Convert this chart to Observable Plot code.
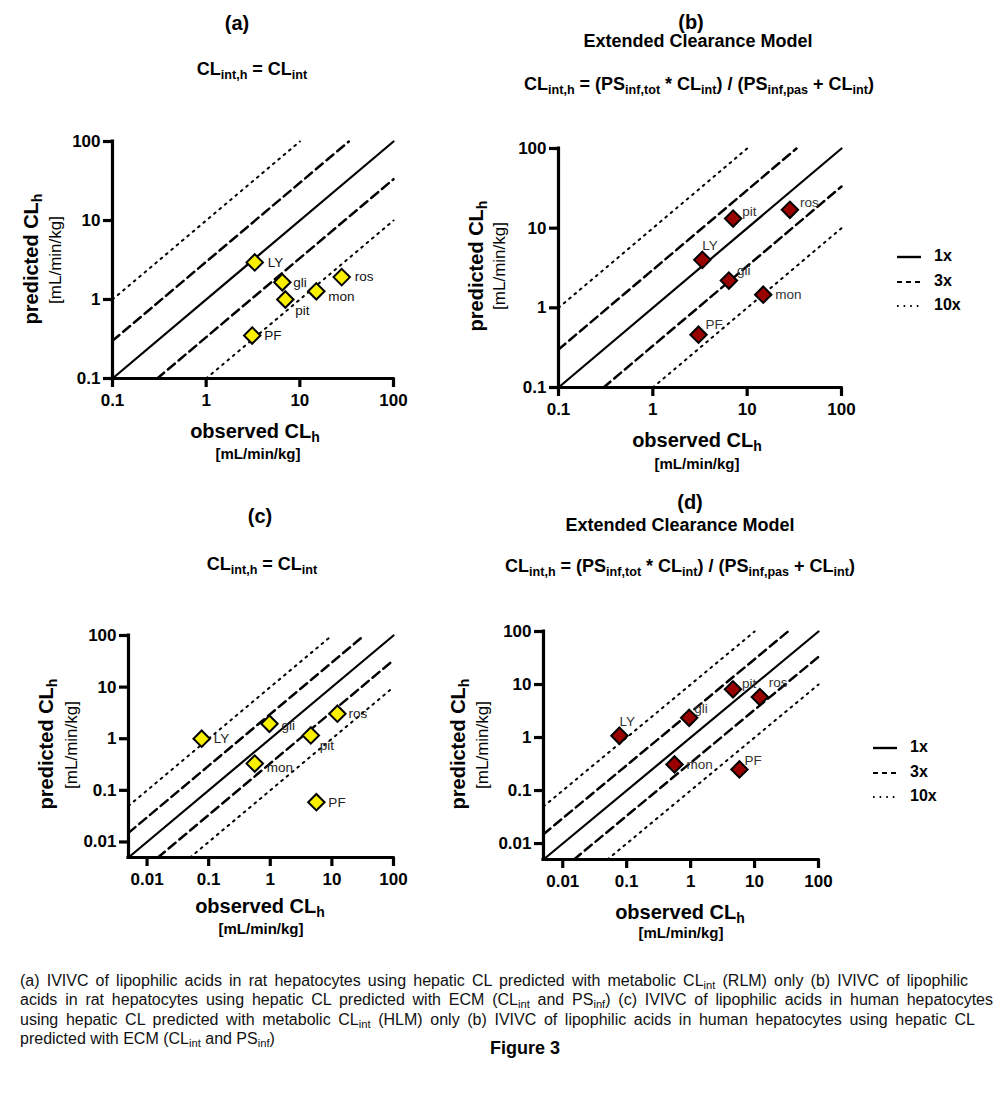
<!DOCTYPE html>
<html><head><meta charset="utf-8">
<script src="https://cdn.jsdelivr.net/npm/d3@7"></script>
<script src="https://cdn.jsdelivr.net/npm/@observablehq/plot@0.6"></script>
<style>
body{margin:0;background:#fff;}
#root{position:relative;width:998px;height:1110px;font-family:"Liberation Sans",Arial,sans-serif;color:#000;overflow:hidden;}
.t{position:absolute;white-space:nowrap;transform:translate(-50%,-50%);font-weight:bold;line-height:1;}
.yl{transform:translate(-50%,-50%) rotate(-90deg);}
.sb{font-size:0.7em;position:relative;top:0.28em;}
.pan{position:absolute;}
.cap{position:absolute;left:20px;font-size:16px;line-height:1;white-space:nowrap;color:#111;}
.just{text-align:justify;text-align-last:justify;}
.leg{position:absolute;font-weight:bold;font-size:16px;}
.leg div{position:relative;height:24.5px;}
.leg svg{position:absolute;left:0;top:-1px;}
.leg span{position:absolute;left:38px;top:-9px;}
</style>
</head><body>
<div id="root"></div>
<script>
// ---- data ----
const compounds = ["LY", "gli", "pit", "mon", "ros", "PF"];
// (a) rat, metabolic CLint only
const obsA  = [3.3, 6.5, 7.0, 15, 28, 3.1];
const predA = [2.95, 1.65, 1.0, 1.27, 1.92, 0.35];
// (b) rat, ECM
const obsB  = [3.35, 6.4, 7.1, 14.8, 28.4, 3.05];
const predB = [4.0, 2.2, 13.2, 1.46, 17, 0.46];
// (c) human, metabolic CLint only
const obsC  = [0.077, 0.97, 4.55, 0.56, 12.3, 5.6];
const predC = [1.0, 1.95, 1.16, 0.33, 3.05, 0.059];
// (d) human, ECM
const obsD  = [0.077, 0.95, 4.6, 0.56, 12.1, 5.8];
const predD = [1.08, 2.35, 8.1, 0.31, 5.8, 0.25];

const foldRatios = [1, 3, 1/3, 10, 1/10];
const legendLabels = ["1x", "3x", "10x"];
const ticksRat = [0.1, 1, 10, 100];
const tickLabelsRat = ["0.1", "1", "10", "100"];
const ticksHum = [0.01, 0.1, 1, 10, 100];
const tickLabelsHum = ["0.01", "0.1", "1", "10", "100"];
const domainRat = [0.1, 100];
const domainHum = [0.005, 100];

// ---- label placement (style) ----
const offA = {LY:[13,0], gli:[11,0], pit:[10,11], mon:[12,5], ros:[13,0], PF:[12,0]};
const offB = {LY:[0,-14], gli:[8,-10], pit:[9,-7], mon:[12,0], ros:[10,-7], PF:[7,-10]};
const offC = {LY:[12,0], gli:[12,2], pit:[9,10], mon:[12,4], ros:[11,0], PF:[12,0]};
const offD = {LY:[0,-14], gli:[5,-9], pit:[9,-6], mon:[12,0], ros:[9,-14], PF:[5,-9]};

const root = document.getElementById("root");
const FONT = "'Liberation Sans', Arial, sans-serif";

function kind(k){ return k === 1 ? "solid" : (Math.abs(k-3)<1e-9 || Math.abs(k-1/3)<1e-9) ? "dashed" : "dotted"; }

function panel(o){
  const rows = compounds.map((name,i)=>({name, x:o.obs[i], y:o.pred[i]}));
  const [d0,d1] = o.domain;
  const seg = [];
  for (const k of foldRatios){
    const x0 = Math.max(d0, d0/k), x1 = Math.min(d1, d1/k);
    seg.push({k, x:x0, y:k*x0}, {k, x:x1, y:k*x1});
  }
  const fmt = d => o.tickLabels[o.ticks.indexOf(d)];
  const axisOpts = {tickSize:9, strokeWidth:3.2, tickFormat:fmt, label:null, fontSize:17, fontWeight:"bold", fontFamily:FONT, fill:"#000"};
  const marks = [
    Plot.line(seg.filter(d=>kind(d.k)==="solid"), {x:"x", y:"y", z:"k", stroke:"#000", strokeWidth:2.2}),
    Plot.line(seg.filter(d=>kind(d.k)==="dashed"), {x:"x", y:"y", z:"k", stroke:"#000", strokeWidth:2.5, strokeDasharray:"9,5"}),
    Plot.line(seg.filter(d=>kind(d.k)==="dotted"), {x:"x", y:"y", z:"k", stroke:"#000", strokeWidth:2, strokeDasharray:"1.8,5.2"}),
    Plot.axisX(o.ticks, {...axisOpts, tickPadding:6}),
    Plot.axisY(o.ticks, {...axisOpts, tickPadding:3}),
    Plot.ruleX([{x:d0, y1:d0, y2:d1}], {x:"x", y1:"y1", y2:"y2", stroke:"#000", strokeWidth:3.2, strokeLinecap:"square"}),
    Plot.ruleY([{y:d0, x1:d0, x2:d1}], {y:"y", x1:"x1", x2:"x2", stroke:"#000", strokeWidth:3.2, strokeLinecap:"square"}),
    Plot.dot(rows, {x:"x", y:"y", symbol:"diamond2", r:7.4, fill:o.fill, stroke:"#000", strokeWidth:2}),
    ...rows.map(d => Plot.text([d], {x:"x", y:"y", text:"name", dx:o.off[d.name][0], dy:o.off[d.name][1],
      textAnchor:"start", fontSize:13.5, fontWeight:"normal", fill:o.labelColor}))
  ];
  const svg = Plot.plot({
    width:o.w, height:o.h,
    marginLeft:o.mL, marginRight:o.mR, marginTop:o.mT, marginBottom:o.mB,
    x:{type:"log", domain:o.domain},
    y:{type:"log", domain:o.domain},
    style:{fontFamily:FONT, fontSize:"17px", fontWeight:"bold", color:"#000", background:"transparent", overflow:"visible"},
    marks
  });
  const div = document.createElement("div");
  div.className = "pan";
  div.style.left = o.left+"px"; div.style.top = o.top+"px";
  div.appendChild(svg);
  root.appendChild(div);
}

panel({obs:obsA, pred:predA, domain:domainRat, ticks:ticksRat, tickLabels:tickLabelsRat, fill:"#f9f000", off:offA, labelColor:"#111",
  left:0, top:120, w:420, h:320, mL:112, mR:27, mT:21, mB:62});
panel({obs:obsB, pred:predB, domain:domainRat, ticks:ticksRat, tickLabels:tickLabelsRat, fill:"#990000", off:offB, labelColor:"#333",
  left:460, top:128, w:420, h:320, mL:98, mR:39, mT:20, mB:61});
panel({obs:obsC, pred:predC, domain:domainHum, ticks:ticksHum, tickLabels:tickLabelsHum, fill:"#f9f000", off:offC, labelColor:"#222",
  left:0, top:615, w:420, h:300, mL:128, mR:27, mT:20, mB:58});
panel({obs:obsD, pred:predD, domain:domainHum, ticks:ticksHum, tickLabels:tickLabelsHum, fill:"#990000", off:offD, labelColor:"#333",
  left:440, top:611, w:420, h:300, mL:103, mR:42, mT:20, mB:52});

// ---- text ----
function txt(html, x, y, size, cls, weight){
  const d = document.createElement("div");
  d.className = "t" + (cls ? " "+cls : "");
  d.style.left = x+"px"; d.style.top = y+"px"; d.style.fontSize = size+"px";
  if (weight) d.style.fontWeight = weight;
  d.innerHTML = html;
  root.appendChild(d);
}
const S = s => `<span class="sb">${s}</span>`;
const formula1 = `CL${S("int,h")} = CL${S("int")}`;
const formula2 = `CL${S("int,h")} = (PS${S("inf,tot")} * CL${S("int")}) / (PS${S("inf,pas")} + CL${S("int")})`;
const ecm = "Extended Clearance Model";
const yTitle = `predicted CL${S("h")}`;
const xTitle = `observed CL${S("h")}`;
const unit = "[mL/min/kg]";

txt("(a)", 237, 23, 20); txt(formula1, 252, 69, 18);
txt("(b)", 691, 22, 20); txt(ecm, 698, 41, 18); txt(formula2, 699, 84, 18);
txt("(c)", 260, 516, 20); txt(formula1, 262, 564, 18);
txt("(d)", 690, 502, 20); txt(ecm, 680, 525, 18); txt(formula2, 680, 566, 18);

const axisPos = [
  {y:[31,259], yu:[55,260], x:[255,431], xu:[258,453]},
  {y:[476,266], yu:[499,266], x:[697,440], xu:[697,463]},
  {y:[46,744], yu:[71,745], x:[260,906], xu:[261,928]},
  {y:[458,744], yu:[482,745], x:[680,912], xu:[681,932]}
];
for (const p of axisPos){
  txt(yTitle, p.y[0], p.y[1], 20, "yl");
  txt(unit, p.yu[0], p.yu[1], 17, "yl", "normal");
  txt(xTitle, p.x[0], p.x[1], 20);
  txt(unit, p.xu[0], p.xu[1], 15);
}

// ---- legends ----
function legend(left, top){
  const L = document.createElement("div");
  L.className = "leg"; L.style.left = left+"px"; L.style.top = top+"px";
  const dash = ["", "5,4", "1.6,5"];
  legendLabels.forEach((lab,i)=>{
    const row = document.createElement("div");
    row.innerHTML = `<svg width="26" height="4"><line x1="1" y1="2" x2="25" y2="2" stroke="#000" stroke-width="${i===0?2.4:2}" ${dash[i]?`stroke-dasharray="${dash[i]}"`:""}/></svg><span>${lab}</span>`;
    L.appendChild(row);
  });
  root.appendChild(L);
}
legend(896, 256);
legend(872, 747);

// ---- caption ----
const I = s => `<span class="sb">${s}</span>`;
const capLines = [
  `(a) IVIVC of lipophilic acids in rat hepatocytes using hepatic CL predicted with metabolic CL${I("int")} (RLM) only (b) IVIVC of lipophilic`,
  `acids in rat hepatocytes using hepatic CL predicted with ECM (CL${I("int")} and PS${I("inf")}) (c) IVIVC of lipophilic acids in human hepatocytes`,
  `using hepatic CL predicted with metabolic CL${I("int")} (HLM) only (b) IVIVC of lipophilic acids in human hepatocytes using hepatic CL`,
  `predicted with ECM (CL${I("int")} and PS${I("inf")})`
];
const capW = [948, 973, 955, null];
const capY = [973, 992, 1012, 1031];
capLines.forEach((h,i)=>{
  const d = document.createElement("div");
  d.className = "cap" + (capW[i] ? " just" : "");
  if (capW[i]) d.style.width = capW[i]+"px";
  d.style.top = capY[i]+"px";
  d.innerHTML = h;
  root.appendChild(d);
});
txt("Figure 3", 525, 1048, 18);
</script>
</body></html>
